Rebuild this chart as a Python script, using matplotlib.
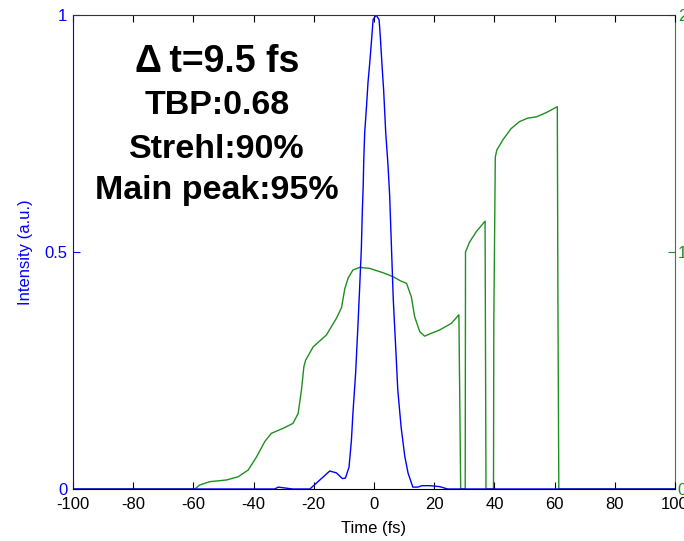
import matplotlib
matplotlib.use("Agg")
import matplotlib.pyplot as plt

plt.rcParams['font.family'] = ['Liberation Sans', 'DejaVu Sans']

# intensity (left axis)
t_int = [-100, -33, -31.8, -27, -21.3, -18, -14.7, -12.5, -10.5, -9.5, -8.3, -7.5,
         -7.0, -6.1, -5.3, -4.8, -4.2, -3.9, -3.6, -3.4, -3.1, -2.5, -2.0, -1.4,
         -0.9, -0.3, 0.7, 1.7, 2.1, 2.7, 3.2, 3.9, 4.6, 5.2, 5.8, 6.4, 7.2,
         7.9, 9.0, 10.2, 11.3, 12.9, 14.5, 16.0, 18.5, 21.8, 24.5, 100]
intensity = [0, 0, 0.004, 0, 0, 0.019, 0.038, 0.034, 0.022, 0.023, 0.046, 0.103,
             0.16, 0.245, 0.35, 0.42, 0.508, 0.582, 0.637, 0.694, 0.751, 0.806, 0.857, 0.90,
             0.94, 0.99, 1.0, 0.99, 0.954, 0.89, 0.842, 0.751, 0.688, 0.62, 0.51, 0.40, 0.30,
             0.209, 0.131, 0.07, 0.034, 0.004, 0.004, 0.007, 0.007, 0.005, 0, 0]

# phase (right axis)
t_ph = [-100, -59.5, -57.9, -54.5, -49.0, -45.1, -41.8, -39.0, -36.3, -34.1, -30.2,
        -26.9, -25.2, -24.1, -23.3, -22.7, -20.2, -15.8, -12.5, -10.8, -9.7, -8.6,
        -7.0, -4.8, -1.5, 2.9, 6.3, 9.0, 10.8, 12.4, 13.5, 15.2, 16.8, 18.5, 21.8,
        25.7, 28.2, 28.5, 28.8, 30.3, 30.4, 31.8, 34.0, 36.9, 37.2, 39.7, 39.8,
        40.3, 40.8, 42.8, 45.5, 48.3, 51.1, 53.9, 57.2, 60.9, 61.1, 61.4, 100]
phase = [0, 0, 0.017, 0.031, 0.038, 0.052, 0.08, 0.136, 0.2, 0.235, 0.256,
         0.277, 0.319, 0.418, 0.516, 0.544, 0.6, 0.65, 0.72, 0.765, 0.845, 0.89,
         0.924, 0.935, 0.931, 0.913, 0.896, 0.877, 0.868, 0.811, 0.727, 0.664, 0.645, 0.654, 0.671,
         0.699, 0.735, 0.37, 0, 0, 1.0, 1.043, 1.086, 1.13, 0, 0, 0.7,
         1.40, 1.43, 1.473, 1.52, 1.55, 1.565, 1.57, 1.588, 1.613, 0.8, 0, 0]

xticks = [-100, -80, -60, -40, -20, 0, 20, 40, 60, 80, 100]
notes = ["\u0394\u2009t=9.5 fs", "TBP:0.68", "Strehl:90%", "Main peak:95%"]

blue = '#0000ff'
green = '#1f8f1f'

fig = plt.figure(figsize=(6.84, 5.41), dpi=100)
ax = fig.add_axes([73 / 684, 52 / 541, 602 / 684, 474 / 541])
ax2 = ax.twinx()

ax2.plot(t_ph, phase, color=green, lw=1.0)
ax.plot(t_int, intensity, color=blue, lw=1.0)
ax.set_zorder(ax2.get_zorder() + 1)
ax.patch.set_visible(False)

ax.set_xlim(-100, 100)
ax.set_ylim(0, 1)
ax2.set_ylim(0, 2)
ax.set_xticks(xticks)
ax.set_xticklabels([str(v) for v in xticks])
ax.set_yticks([0, 0.5, 1])
ax.set_yticklabels(['0', '0.5', '1'])
ax2.set_yticks([0, 1, 2])

ax.tick_params(axis='x', direction='in', length=5, width=0.8, top=True,
               labelsize=12, pad=6, color='black')
ax.tick_params(axis='y', direction='in', length=5, width=0.8, labelsize=12,
               pad=4, colors=blue)
ax2.tick_params(axis='y', direction='in', length=5, width=0.8, labelsize=12,
                pad=2, colors=green)

ax.spines['left'].set_color(blue)
ax.spines['right'].set_visible(False)
ax.spines['top'].set_color('#333333')
ax.spines['bottom'].set_color('black')
for s in ['left', 'top', 'bottom']:
    ax2.spines[s].set_visible(False)
ax2.spines['right'].set_color(green)

ax.set_xlabel("Time (fs)", fontsize=12, labelpad=6)
ax.set_ylabel("Intensity (a.u.)", fontsize=12, color=blue, labelpad=8)

baselines = [72, 114, 158, 199]
sizes = [27, 24.5, 24.5, 24.5]
for txt, b, s in zip(notes, baselines, sizes):
    fig.text(217 / 684, 1 - b / 541, txt, ha='center', va='baseline',
             fontsize=s, fontweight='bold')

fig.savefig("out.png", dpi=100)
